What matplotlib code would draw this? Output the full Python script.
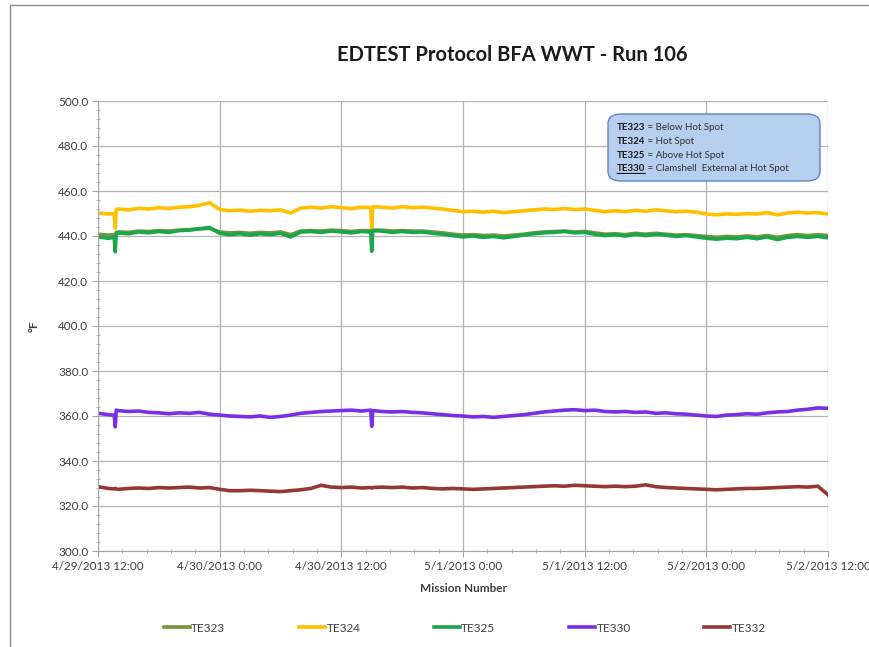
import numpy as np
import pandas as pd
import matplotlib
matplotlib.use("Agg")
import matplotlib.pyplot as plt
import matplotlib.dates as mdates
from matplotlib.ticker import MultipleLocator, FuncFormatter
from matplotlib.patches import FancyBboxPatch, Rectangle
from matplotlib.text import Annotation

# ============================================================
# DATA (hours after 4/29/2013 12:00)
# ============================================================

START = "2013-04-29 12:00"

hours = [0, 1, 1.6, 1.7, 1.8, 2, 3, 4, 5, 6, 7, 8, 9, 10, 11, 12, 13, 14,
         15, 16, 17, 18, 19, 20, 21, 22, 23, 24, 25, 26, 26.9, 27, 27.1,
         28, 29, 30, 31, 32, 33, 34, 35, 36, 37, 38, 39, 40, 41, 42, 43,
         44, 45, 46, 47, 48, 49, 50, 51, 52, 53, 54, 55, 56, 57, 58, 59,
         60, 61, 62, 63, 64, 65, 66, 67, 68, 69, 70, 71, 72]

te323 = [440.8, 440.4, 440.6, 439.8, 441.6, 441.8, 441.6, 442.2, 442.0, 442.4,
         442.2, 442.6, 442.8, 443.2, 443.4, 441.8, 441.4, 441.6, 441.2, 441.6,
         441.4, 441.8, 440.6, 442.2, 442.4, 442.2, 442.6, 442.4, 442.0, 442.4,
         442.4, 441.0, 442.6, 442.6, 442.2, 442.4, 442.2, 442.2, 441.8, 441.4,
         440.8, 440.4, 440.6, 440.2, 440.4, 440.0, 440.4, 440.8, 441.4, 441.8,
         442.0, 442.2, 441.8, 442.0, 441.4, 440.8, 441.0, 440.6, 441.2, 440.8,
         441.2, 440.8, 440.4, 440.6, 440.2, 439.8, 439.4, 439.8, 439.6, 440.0,
         439.6, 440.2, 439.4, 440.2, 440.6, 440.2, 440.6, 440.2]

te324 = [450.2, 449.8, 450.0, 443.5, 451.8, 452.0, 451.6, 452.3, 452.0, 452.6,
         452.2, 452.8, 453.0, 453.6, 454.8, 451.8, 451.2, 451.5, 451.0, 451.4,
         451.2, 451.6, 450.2, 452.4, 452.8, 452.4, 453.0, 452.6, 452.2, 452.8,
         452.6, 443.6, 453.0, 452.8, 452.4, 453.0, 452.6, 452.8, 452.4, 452.0,
         451.4, 450.8, 451.0, 450.6, 451.0, 450.4, 450.8, 451.2, 451.6, 452.0,
         451.8, 452.2, 451.8, 452.0, 451.4, 450.8, 451.2, 450.8, 451.4, 451.0,
         451.6, 451.2, 450.8, 451.0, 450.6, 449.8, 449.4, 449.8, 449.6, 450.0,
         449.8, 450.4, 449.4, 450.2, 450.6, 450.2, 450.4, 449.8]

te325 = [439.6, 439.0, 439.4, 433.0, 441.2, 441.4, 441.0, 441.8, 441.4, 442.0,
         441.6, 442.4, 442.6, 443.2, 443.8, 441.2, 440.6, 441.0, 440.4, 441.0,
         440.6, 441.2, 439.6, 441.8, 442.0, 441.6, 442.2, 441.8, 441.4, 442.0,
         441.8, 433.2, 442.4, 442.2, 441.6, 442.0, 441.6, 441.8, 441.2, 440.8,
         440.2, 439.6, 440.0, 439.4, 439.8, 439.2, 439.8, 440.4, 441.0, 441.4,
         441.6, 442.0, 441.4, 441.6, 440.8, 440.2, 440.6, 440.0, 440.8, 440.2,
         440.8, 440.4, 439.8, 440.2, 439.6, 439.0, 438.6, 439.0, 438.8, 439.4,
         438.8, 439.6, 438.4, 439.4, 439.8, 439.4, 439.8, 439.2]

te330 = [361.2, 360.6, 360.4, 355.2, 362.6, 362.4, 362.0, 362.2, 361.6, 361.4,
         361.0, 361.4, 361.2, 361.6, 360.8, 360.4, 360.0, 359.8, 359.6, 360.0,
         359.4, 359.8, 360.4, 361.2, 361.6, 362.0, 362.2, 362.4, 362.6, 362.2,
         362.6, 355.4, 362.4, 362.0, 361.8, 362.0, 361.6, 361.4, 361.0, 360.6,
         360.2, 360.0, 359.6, 359.8, 359.4, 359.8, 360.2, 360.6, 361.2, 361.8,
         362.2, 362.6, 362.8, 362.4, 362.6, 362.0, 361.8, 362.0, 361.6, 361.8,
         361.2, 361.4, 361.0, 360.8, 360.4, 360.0, 359.8, 360.4, 360.6, 361.0,
         360.8, 361.4, 361.8, 362.0, 362.6, 363.0, 363.6, 363.4]

te332 = [328.6, 327.8, 327.6, 327.8, 327.6, 327.4, 327.8, 328.0, 327.8, 328.2,
         328.0, 328.2, 328.4, 328.0, 328.2, 327.4, 326.8, 326.8, 327.0, 326.8,
         326.6, 326.4, 326.8, 327.2, 327.8, 329.2, 328.4, 328.2, 328.4, 328.0,
         328.2, 328.0, 328.2, 328.4, 328.2, 328.4, 328.0, 328.2, 327.8, 327.6,
         327.8, 327.6, 327.4, 327.6, 327.8, 328.0, 328.2, 328.4, 328.6, 328.8,
         329.0, 328.8, 329.2, 329.0, 328.8, 328.6, 328.8, 328.6, 328.8, 329.4,
         328.6, 328.2, 328.0, 327.8, 327.6, 327.4, 327.2, 327.4, 327.6, 327.8,
         327.8, 328.0, 328.2, 328.4, 328.6, 328.4, 328.8, 325.0]

series_names = ["TE323", "TE324", "TE325", "TE330", "TE332"]
series_values = [te323, te324, te325, te330, te332]
series_colors = ["#77933c", "#ffc000", "#1aa64a", "#7a2ee6", "#953735"]

note_keys = ["TE323", "TE324", "TE325", "TE330"]
note_texts = [" = Below Hot Spot", " = Hot Spot", " = Above Hot Spot",
              " = Clamshell  External at Hot Spot"]

times = pd.Timestamp(START) + pd.to_timedelta(hours, unit="h")

# ============================================================
# FIGURE
# ============================================================

plt.rcParams["font.family"] = ["Lato", "DejaVu Sans"]

fig = plt.figure(figsize=(8.69, 6.47), dpi=100)
ax = fig.add_axes([98 / 869, 1 - 551 / 647, 730 / 869, 450 / 647])

fig.patches.append(Rectangle((10 / 869, -0.05), 1.2, 1 - 5 / 647 + 0.05,
                             transform=fig.transFigure, fill=False,
                             edgecolor="#8c8c8c", lw=1.0))

for name, vals, col in zip(series_names, series_values, series_colors):
    ax.plot(times, vals, color=col, lw=2.6, label=name, solid_joinstyle="round")

ax.set_ylim(300, 500)
ax.set_xlim(pd.Timestamp(START), pd.Timestamp(START) + pd.Timedelta(hours=72))

ax.yaxis.set_major_locator(MultipleLocator(20))
ax.yaxis.set_minor_locator(MultipleLocator(4))
ax.yaxis.set_major_formatter(FuncFormatter(lambda v, p: f"{v:.1f}"))

ax.xaxis.set_major_locator(MultipleLocator(0.5))
ax.xaxis.set_minor_locator(MultipleLocator(0.1))


def date_label(v, p):
    d = mdates.num2date(v)
    return f"{d.month}/{d.day}/{d.year} {d.hour}:{d.minute:02d}"


ax.xaxis.set_major_formatter(FuncFormatter(date_label))

ax.grid(True, which="major", color="#b3b3b3", lw=0.9)
ax.set_axisbelow(True)
for s in ["top", "right"]:
    ax.spines[s].set_visible(False)
for s in ["left", "bottom"]:
    ax.spines[s].set_color("#a6a6a6")

ax.tick_params(which="major", direction="out", length=4, color="#a6a6a6",
               labelsize=8.5, labelcolor="#404040", pad=3)
ax.tick_params(which="minor", direction="inout", length=3, color="#a6a6a6")

ax.set_xlabel("Mission Number", fontsize=8.5, fontweight="bold", color="#404040", labelpad=8)
ax.set_ylabel("°F", fontsize=8.5, fontweight="bold", color="#404040", labelpad=13)

fig.text(512 / 869, 1 - 55 / 647, "EDTEST Protocol BFA WWT - Run 106",
         ha="center", va="center", fontsize=14.5, fontweight="bold", color="#1a1a1a")

fig.legend(loc="center", bbox_to_anchor=(0.535, 1 - 628 / 647), ncol=5,
           frameon=False, fontsize=8.5, handlelength=2.2, handletextpad=0.1,
           columnspacing=6.25, labelcolor="#404040")

# ============================================================
# NOTE BOX
# ============================================================

box = FancyBboxPatch((608 / 869, 1 - 181 / 647), 212 / 869, 67 / 647,
                     boxstyle="round,pad=0,rounding_size=0.015",
                     transform=fig.transFigure, facecolor="#b7cfee",
                     edgecolor="#5b87c0", lw=1.0, zorder=2)
fig.patches.append(box)

for i, (key, txt) in enumerate(zip(note_keys, note_texts)):
    y = 1 - (128 + i * 13.5) / 647
    t = fig.text(617 / 869, y, key, fontsize=7, fontweight="bold",
                 color="#1a1a1a", va="center", zorder=3)
    rest = Annotation(txt, xy=(1, 0.5), xycoords=t, va="center", ha="left",
                      fontsize=7, color="#303030", zorder=3)
    fig.add_artist(rest)
    if key == "TE330":
        line = Annotation("", xy=(0, -0.05), xycoords=t, xytext=(1, -0.05),
                          textcoords=t, zorder=3,
                          arrowprops=dict(arrowstyle="-", lw=0.8, color="#1a1a1a",
                                          shrinkA=0, shrinkB=0))
        fig.add_artist(line)

fig.savefig("out.png", dpi=100)
